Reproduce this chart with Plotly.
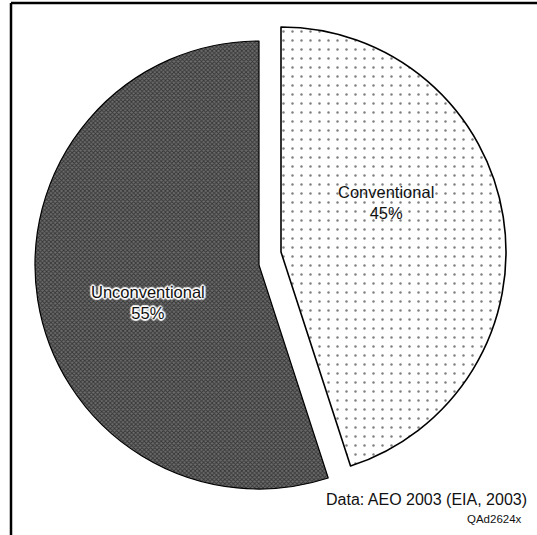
import plotly.graph_objects as go

# Dados
categorias = ["Conventional", "Unconventional"]
percentuais = [45, 55]
fonte = "Data: AEO 2003 (EIA, 2003)"
codigo = "QAd2624x"

W, H = 537, 535
TRANSP = "rgba(0,0,0,0)"


def dominio(cx, cy, r):
    """Converte centro/raio em pixels para domínio em coordenadas paper."""
    return dict(x=[(cx - r) / W, (cx + r) / W],
                y=[1 - (cy + r) / H, 1 - (cy - r) / H])


fig = go.Figure()

# Fatia convencional (deslocada para fora)
fig.add_trace(go.Pie(
    labels=categorias,
    values=percentuais,
    sort=False,
    direction='clockwise',
    rotation=0,
    domain=dominio(281, 252, 225),
    textinfo='none',
    hoverinfo='label+percent',
    showlegend=False,
    marker=dict(
        colors=["white", TRANSP],
        line=dict(color=["black", TRANSP], width=1.6),
        pattern=dict(shape=[".", ""], fgcolor=["black", TRANSP],
                     bgcolor=["white", TRANSP], size=9, solidity=0.06,
                     fillmode='overlay')
    )
))

# Fatia não convencional
fig.add_trace(go.Pie(
    labels=categorias,
    values=percentuais,
    sort=False,
    direction='clockwise',
    rotation=0,
    domain=dominio(259, 265, 224),
    textinfo='none',
    hoverinfo='label+percent',
    showlegend=False,
    marker=dict(
        colors=[TRANSP, "#333333"],
        line=dict(color=[TRANSP, "black"], width=1.2),
        pattern=dict(shape=["", "x"], fgcolor=[TRANSP, "#000000"],
                     bgcolor=[TRANSP, "#6c6c6c"], size=3, solidity=0.5,
                     fillmode='overlay')
    )
))

halo = ("1px 1px 1px white, -1px -1px 1px white, 1px -1px 1px white, "
        "-1px 1px 1px white, 2px 0 1px white, -2px 0 1px white, "
        "0 2px 1px white, 0 -2px 1px white")

fig.add_annotation(text=f"{categorias[0]}<br>{percentuais[0]}%",
                   x=386 / W, y=1 - 202 / H, xref='paper', yref='paper',
                   showarrow=False, xanchor='center', yanchor='middle',
                   font=dict(family="Liberation Sans, Arial", size=16.5, color="#111"))

fig.add_annotation(text=f"{categorias[1]}<br>{percentuais[1]}%",
                   x=148 / W, y=1 - 302 / H, xref='paper', yref='paper',
                   showarrow=False, xanchor='center', yanchor='middle',
                   font=dict(family="Liberation Sans, Arial", size=16.5, color="#111",
                             shadow=halo))

fig.add_annotation(text=fonte, x=529 / W, y=1 - 499 / H, xref='paper', yref='paper',
                   showarrow=False, xanchor='right', yanchor='middle',
                   font=dict(family="Liberation Sans, Arial", size=16, color="#111"))

fig.add_annotation(text=codigo, x=524 / W, y=1 - 519 / H, xref='paper', yref='paper',
                   showarrow=False, xanchor='right', yanchor='middle',
                   font=dict(family="Liberation Sans, Arial", size=11.5, color="#111"))

# Moldura (esquerda e topo)
fig.add_shape(type='line', xref='paper', yref='paper',
              x0=11 / W, y0=0, x1=11 / W, y1=1 - 3 / H,
              line=dict(color='black', width=2.5))
fig.add_shape(type='line', xref='paper', yref='paper',
              x0=11 / W, y0=1 - 3 / H, x1=1, y1=1 - 3 / H,
              line=dict(color='black', width=2.5))

fig.update_layout(
    width=W, height=H,
    margin=dict(l=0, r=0, t=0, b=0),
    paper_bgcolor='white',
    plot_bgcolor='white',
    showlegend=False
)

fig.write_html("out.html", config={'displayModeBar': False},
               post_script="document.body.style.margin='0';document.body.style.overflow='hidden';")
